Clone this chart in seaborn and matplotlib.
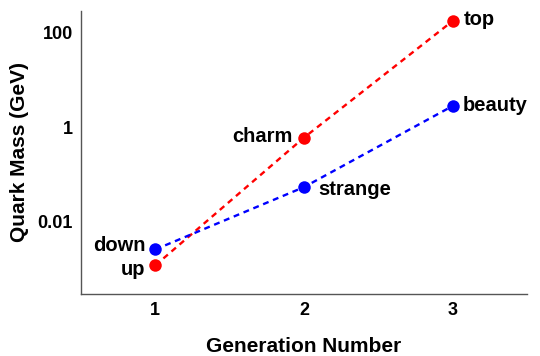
import numpy as np
import pandas as pd
import seaborn as sns
import matplotlib.pyplot as plt

sns.set_theme(style="white")
plt.rcParams['font.family'] = ['Liberation Sans', 'DejaVu Sans']
plt.rcParams['font.weight'] = 'bold'
plt.rcParams['text.color'] = 'black'
plt.rcParams['axes.labelcolor'] = 'black'

generation = [1, 2, 3]
up_type = [0.0012, 0.6, 175.0]
down_type = [0.0026, 0.054, 2.8]
up_names = ["up", "charm", "top"]
down_names = ["down", "strange", "beauty"]

df = pd.DataFrame({
    "gen": generation * 2,
    "mass": up_type + down_type,
    "family": ["up"] * 3 + ["down"] * 3,
    "name": up_names + down_names,
})

fig, ax = plt.subplots(figsize=(5.4, 3.56), dpi=100)
sns.lineplot(data=df, x="gen", y="mass", hue="family",
             palette={"up": "#ff0000", "down": "#0000ff"},
             marker="o", markersize=9, markeredgewidth=0,
             linestyle=(0, (2.5, 2)), linewidth=1.7, legend=False, ax=ax)
ax.set_yscale("log")
ax.set_xlim(0.5, 3.5)
ax.set_ylim(10 ** -3.52, 10 ** 2.46)

ax.set_xticks([1, 2, 3])
ax.set_xticklabels(["1", "2", "3"])
ax.set_yticks([0.01, 1, 100])
ax.set_yticklabels(["0.01", "1", "100"])
ax.minorticks_off()
ax.tick_params(direction="in", length=4, width=1, colors="#555555",
               labelcolor="black", labelsize=13, pad=6)
for lab in ax.get_xticklabels() + ax.get_yticklabels():
    lab.set_fontweight("bold")

for s in ["top", "right"]:
    ax.spines[s].set_visible(False)
for s in ["left", "bottom"]:
    ax.spines[s].set_color("#555555")
    ax.spines[s].set_linewidth(1)

ax.set_xlabel("Generation Number", fontsize=15, fontweight="bold", labelpad=13)
ax.set_ylabel("Quark Mass (GeV)", fontsize=15, fontweight="bold", labelpad=6)

# label offsets in points (dx, dy)
offsets = {"up": (-7, -3), "down": (-7, 3), "charm": (-8, 1),
           "top": (8, 1), "beauty": (7, 0), "strange": (10, -2)}
for _, r in df.iterrows():
    dx, dy = offsets[r["name"]]
    ax.annotate(r["name"], (r["gen"], r["mass"]), xytext=(dx, dy),
                textcoords="offset points", ha="right" if dx < 0 else "left",
                va="center", fontsize=14.5, fontweight="bold")

fig.subplots_adjust(left=0.15, right=0.976, bottom=0.175, top=0.97)
fig.savefig("out.png", dpi=100)
